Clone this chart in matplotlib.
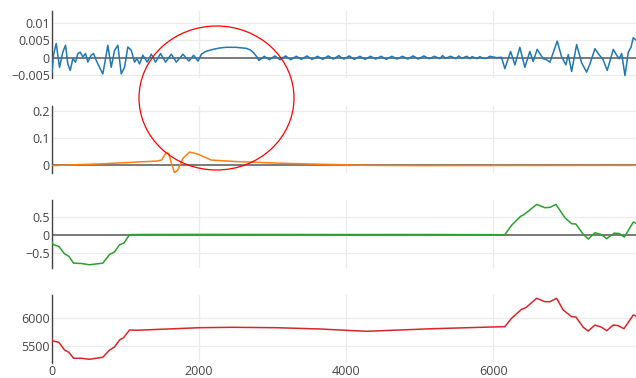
import matplotlib.pyplot as plt
from matplotlib.patches import Ellipse

# series values (x in samples)
blue_x = [0, 20, 57, 102, 147, 184, 215, 248, 283, 320, 351, 384, 419, 456, 487, 533,
          565, 601, 646, 691, 728, 759, 805, 850, 895, 941, 986, 1031, 1078, 1122, 1154,
          1190, 1235, 1295, 1350, 1408, 1476, 1544, 1622, 1690, 1780, 1861, 1925, 1986,
          2030, 2088, 2188, 2279, 2370, 2497, 2642, 2700, 2741, 2782, 2813,
          2885, 2955, 3030, 3100, 3175, 3245, 3320, 3390, 3465, 3535, 3610, 3680, 3755,
          3825, 3900, 3920, 3970, 4040, 4110, 4185, 4255, 4330, 4400, 4475, 4545, 4620,
          4690, 4765, 4835, 4910, 4980, 5055, 5125, 5200, 5270, 5310, 5345, 5420, 5490,
          5530, 5565, 5640, 5680, 5710, 5780, 5816, 5860, 5907, 5952, 6043, 6111,
          6156, 6234, 6293, 6360, 6428, 6496, 6541, 6596, 6677, 6723, 6769, 6868, 6928,
          6986, 7018, 7064, 7132, 7200, 7268, 7313, 7381, 7435, 7490, 7548, 7630, 7676,
          7711, 7744, 7789, 7834, 7871, 7902, 7939]
blue_y = [-0.0042, 0.0007, 0.0041, -0.0028, 0.0016, 0.0036, -0.0018, -0.0037, -0.0003,
          -0.0013, 0.0012, 0.0016, 0.0002, 0.0012, -0.0013, 0.0007, 0.0012, -0.0008,
          -0.0028, -0.0047, -0.0003, 0.0036, -0.0028, 0.0021, 0.0036, -0.0047, -0.0028,
          0.0031, 0.0021, -0.0013, -0.0003, -0.0018, 0.0007, -0.0013, 0.001, -0.0013,
          0.0012, -0.0013, 0.001, -0.0013, 0.001, -0.001, 0.0007, -0.001,
          0.0010, 0.0018, 0.0024, 0.0028, 0.0030, 0.0030, 0.0027, 0.0022, 0.0014, 0.0003,
          -0.0008,
          0.0004, -0.0006, 0.0005, -0.0006, 0.0005, -0.0006, 0.0004, -0.0005, 0.0005,
          -0.0005, 0.0004, -0.0005, 0.0005, -0.0004, 0.0006, 0.0002, -0.0004, 0.0005,
          -0.0005, 0.0004, -0.0005, 0.0004, -0.0004, 0.0004, -0.0005, 0.0004, -0.0004,
          0.0004, -0.0004, 0.0005, -0.0004, 0.0005, -0.0003, 0.0004, -0.0003, 0.0006,
          -0.0002, 0.0004, -0.0003, 0.0005, -0.0002, 0.0004, -0.0003, 0.0003, -0.0003,
          0.0003, -0.0002, -0.0002, 0.0004, 0.0000, 0.0001,
          -0.0032, 0.0018, -0.0021, 0.003, -0.0028, 0.0018, -0.0011, 0.0024, -0.0003,
          -0.0006, -0.0013, 0.0048, 0.0002, -0.0021, 0.0009, -0.004, 0.0038, -0.0015,
          -0.0042, -0.0018, 0.0026, 0.0009, -0.0005, -0.0037, 0.0024, 0.0007, -0.0003,
          0.0012, -0.0052, 0.0016, 0.0030, 0.0058, 0.0051]

orange_x = [0, 700, 1437, 1490, 1550, 1587, 1620, 1665, 1710, 1780, 1870, 1985, 2165,
            2500, 3095, 3500, 4000, 4300, 5000, 6000, 7939]
orange_y = [-0.001, 0.006, 0.016, 0.02, 0.046, 0.044, 0.01, -0.027, -0.017, 0.026,
            0.049, 0.041, 0.0195, 0.014, 0.008, 0.005, 0.002, 0.0, -0.001, -0.0005, 0.0]

green_x = [0, 20, 93, 170, 229, 293, 397, 510, 691, 782, 850, 918, 979, 1054, 1146,
           2000, 3000, 4000, 5000, 6156, 6247, 6370, 6415, 6588, 6700, 6769, 6851, 6973,
           7064, 7122, 7222, 7290, 7381, 7472, 7540, 7644, 7712, 7780, 7902, 7939]
green_y = [-0.205, -0.28, -0.325, -0.53, -0.60, -0.79, -0.80, -0.835, -0.79, -0.55,
           -0.48, -0.28, -0.23, 0.0, 0.005, 0.008, 0.006, 0.004, 0.005, 0.0, 0.26, 0.51,
           0.555, 0.84, 0.75, 0.76, 0.84, 0.47, 0.305, 0.295, 0.01, -0.12, 0.055, 0.0,
           -0.11, 0.045, 0.03, -0.065, 0.35, 0.32]

red_x = [0, 11, 93, 170, 229, 293, 397, 510, 691, 782, 850, 918, 973, 1054, 1146, 2007,
         2456, 3050, 3639, 4275, 5177, 5993, 6156, 6247, 6383, 6442, 6588, 6700, 6769,
         6860, 6949, 7064, 7122, 7222, 7290, 7381, 7472, 7540, 7630, 7698, 7775, 7902,
         7939]
red_y = [5630, 5595, 5571, 5434, 5393, 5286, 5286, 5268, 5304, 5434, 5487, 5612, 5654,
         5791, 5786, 5832, 5839, 5832, 5809, 5768, 5814, 5845, 5850, 6000, 6160, 6190,
         6357, 6297, 6297, 6357, 6148, 6029, 6023, 5839, 5773, 5880, 5839, 5779, 5880,
         5868, 5814, 6059, 6041]

x_ticks = [0, 2000, 4000, 6000]
x_labels = ["0", "2000", "4000", "6000"]
y_ticks = [[-0.005, 0, 0.005, 0.01], [0, 0.1, 0.2], [-0.5, 0, 0.5], [5500, 6000]]
y_labels = [["\u22120.005", "0", "0.005", "0.01"], ["0", "0.1", "0.2"],
            ["\u22120.5", "0", "0.5"], ["5500", "6000"]]
y_lims = [(-0.0059, 0.01353), (-0.027, 0.2195), (-0.917, 0.964), (5207, 6416)]

series = [(blue_x, blue_y, "#1f77b4"), (orange_x, orange_y, "#ff7f0e"),
          (green_x, green_y, "#2ca02c"), (red_x, red_y, "#d62728")]

plt.rcParams['font.family'] = ['Open Sans', 'DejaVu Sans']

W, H = 636, 378
fig = plt.figure(figsize=(W / 100, H / 100), dpi=100)
fig.patch.set_facecolor("white")

# pixel boxes (top, bottom) of the four stacked panels
boxes = [(11, 78), (105.7, 172.7), (200, 267.7), (295, 362.7)]
left, right = 52, 636

for i, (top, bottom) in enumerate(boxes):
    ax = fig.add_axes([left / W, 1 - bottom / H, (right - left) / W, (bottom - top) / H])
    xs, ys, c = series[i]
    ax.plot(xs, ys, color=c, lw=1.1, zorder=3)
    ax.set_xlim(0, 7939)
    ax.set_ylim(*y_lims[i])
    lo, hi = y_lims[i]
    if lo < 0 < hi:
        ax.axhline(0, color="#7a7a7a", lw=1.4, zorder=2)
    ax.set_yticks(y_ticks[i])
    ax.set_yticklabels(y_labels[i])
    ax.set_xticks(x_ticks)
    if i == 3:
        ax.set_xticklabels(x_labels)
    else:
        ax.set_xticklabels([])
    ax.grid(True, color="#ebebeb", lw=0.9, zorder=0)
    ax.set_axisbelow(True)
    for s in ["top", "right", "bottom"]:
        ax.spines[s].set_visible(False)
    ax.spines["left"].set_color("#444444")
    ax.spines["left"].set_linewidth(1.0)
    ax.tick_params(length=0, labelsize=9, labelcolor="#444444", pad=1.5)
    ax.tick_params(axis="x", pad=2)

# red circle annotation
fig.patches.append(Ellipse((216.5 / W, 1 - 98 / H), 155 / W, 144 / H,
                           transform=fig.transFigure, fill=False,
                           edgecolor="red", lw=0.9, zorder=10))

fig.savefig("out.png", dpi=100)
